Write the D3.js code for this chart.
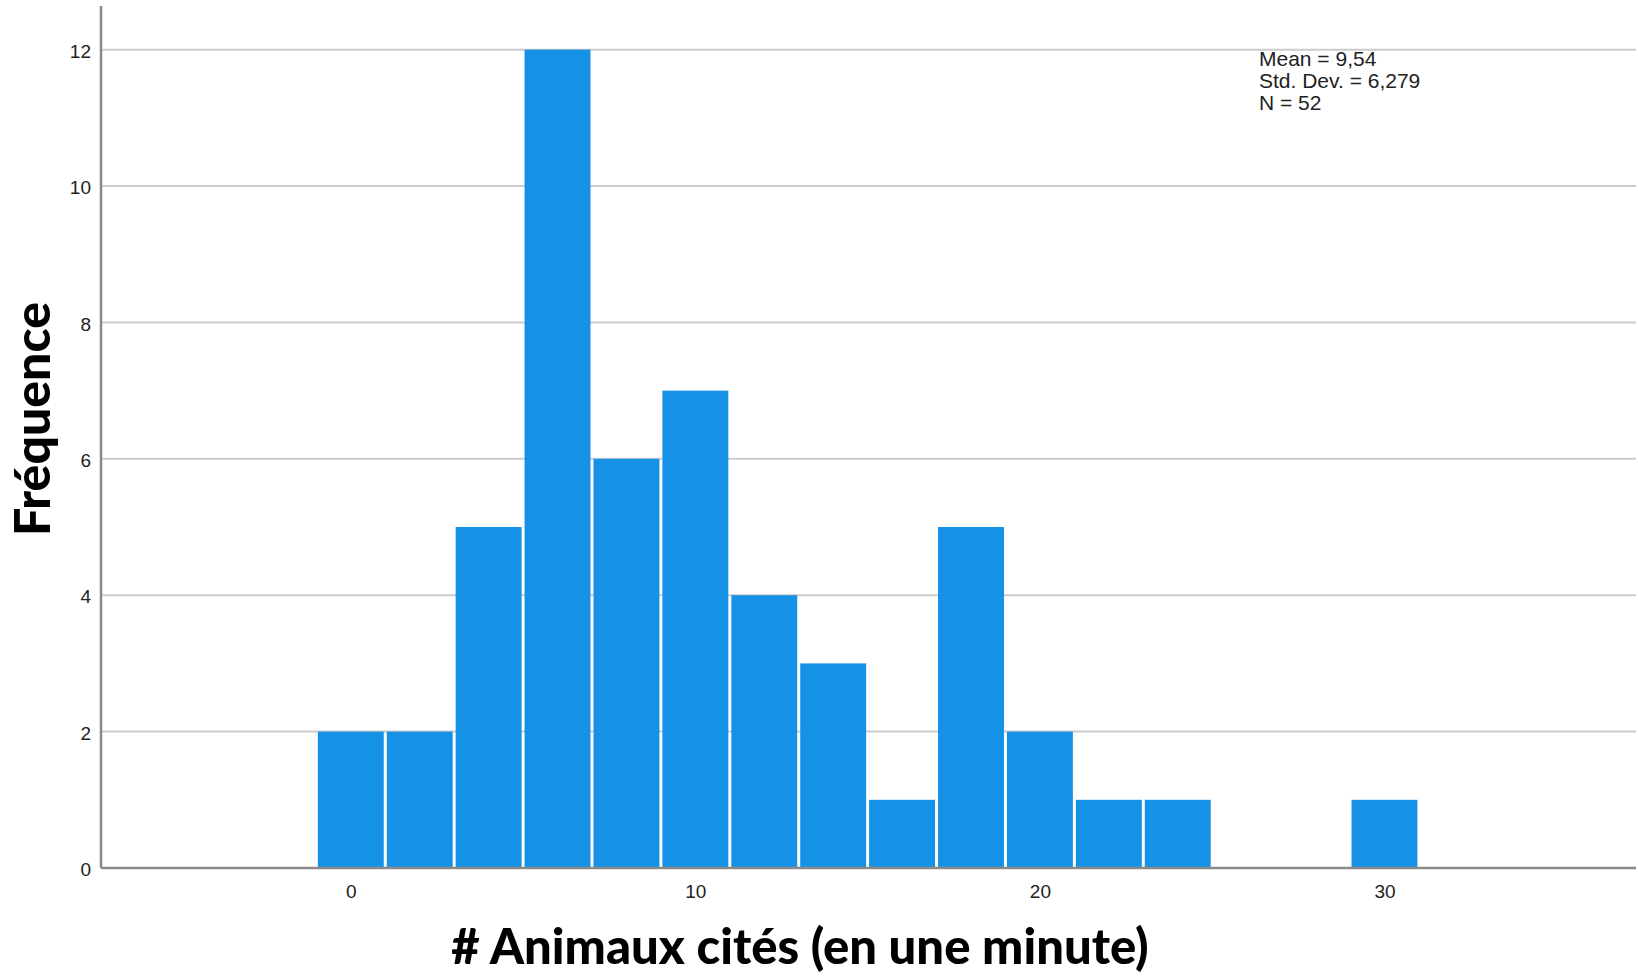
<!DOCTYPE html>
<html>
<head>
<meta charset="utf-8">
<script src="https://cdn.jsdelivr.net/npm/d3@7"></script>
<style>
  body { margin: 0; background: #fff; }
  svg { display: block; }
  .tick text { font-family: "Liberation Sans", Arial, sans-serif; fill: #222; }
</style>
</head>
<body>
<script>
// histogram data: bin centers (bin width 2) and counts
var binCenters = [0, 2, 4, 6, 8, 10, 12, 14, 16, 18, 20, 22, 24, 26, 28, 30];
var counts = [2, 2, 5, 12, 6, 7, 4, 3, 1, 5, 2, 1, 1, 0, 0, 1];
var binWidth = 2;
var xTicks = [0, 10, 20, 30];
var yTicks = [0, 2, 4, 6, 8, 10, 12];
var stats = ["Mean = 9,54", "Std. Dev. = 6,279", "N = 52"];

var width = 1638, height = 978;

var svg = d3.select("body")
    .append("svg")
    .attr("width", width)
    .attr("height", height);

var x = d3.scaleLinear()
    .domain([-7.25, 37.3])
    .range([101, 1636]);

var y = d3.scaleLinear()
    .domain([0, 12.64])
    .range([868, 6]);

// gridlines
svg.append("g")
    .selectAll("line")
    .data(yTicks.filter(function (d) { return d > 0; }))
    .enter()
    .append("line")
    .attr("x1", x.range()[0])
    .attr("x2", x.range()[1])
    .attr("y1", function (d) { return y(d); })
    .attr("y2", function (d) { return y(d); })
    .attr("stroke", "#cbcbcb")
    .attr("stroke-width", 2);

// bars
var data = binCenters.map(function (c, i) { return { c: c, n: counts[i] }; })
    .filter(function (d) { return d.n > 0; });

svg.append("g")
    .selectAll("rect")
    .data(data)
    .enter()
    .append("rect")
    .attr("x", function (d) { return x(d.c - binWidth / 2) + 1.5; })
    .attr("y", function (d) { return y(d.n); })
    .attr("width", function (d) { return x(d.c + binWidth / 2) - x(d.c - binWidth / 2) - 3; })
    .attr("height", function (d) { return y(0) - y(d.n); })
    .attr("fill", "#1591e6");

// axis lines
svg.append("line")
    .attr("x1", x.range()[0]).attr("x2", x.range()[0])
    .attr("y1", y.range()[1]).attr("y2", y(0))
    .attr("stroke", "#8a8a8a").attr("stroke-width", 2.5);
svg.append("line")
    .attr("x1", x.range()[0]).attr("x2", x.range()[1])
    .attr("y1", y(0)).attr("y2", y(0))
    .attr("stroke", "#8a8a8a").attr("stroke-width", 2.5);

// y axis labels
var yAxis = svg.append("g")
    .attr("transform", "translate(" + (x.range()[0] - 10) + ",0)")
    .call(d3.axisLeft(y).tickValues(yTicks).tickSize(0).tickPadding(0));
yAxis.select(".domain").remove();
yAxis.selectAll("text").style("font-size", "19px").attr("dy", "0.4em");

// x axis labels
var xAxis = svg.append("g")
    .attr("transform", "translate(0," + y(0) + ")")
    .call(d3.axisBottom(x).tickValues(xTicks).tickSize(0).tickPadding(17));
xAxis.select(".domain").remove();
xAxis.selectAll("text").style("font-size", "19px");

// stats box
svg.append("g")
    .selectAll("text")
    .data(stats)
    .enter()
    .append("text")
    .attr("x", 1259)
    .attr("y", function (d, i) { return 66 + i * 22; })
    .attr("font-family", "Liberation Sans, Arial, sans-serif")
    .attr("font-size", "21px")
    .attr("fill", "#222")
    .text(function (d) { return d; });

// axis titles
svg.append("text")
    .attr("transform", "translate(50,419)rotate(-90)")
    .attr("text-anchor", "middle")
    .attr("font-family", "Lato, sans-serif")
    .attr("font-weight", "900")
    .attr("font-size", "50px")
    .attr("fill", "#000")
    .text("Fréquence");

svg.append("text")
    .attr("x", 800)
    .attr("y", 964)
    .attr("text-anchor", "middle")
    .attr("font-family", "Lato, sans-serif")
    .attr("font-weight", "900")
    .attr("font-size", "49px")
    .attr("fill", "#000")
    .text("# Animaux cités (en une minute)");
</script>
</body>
</html>
